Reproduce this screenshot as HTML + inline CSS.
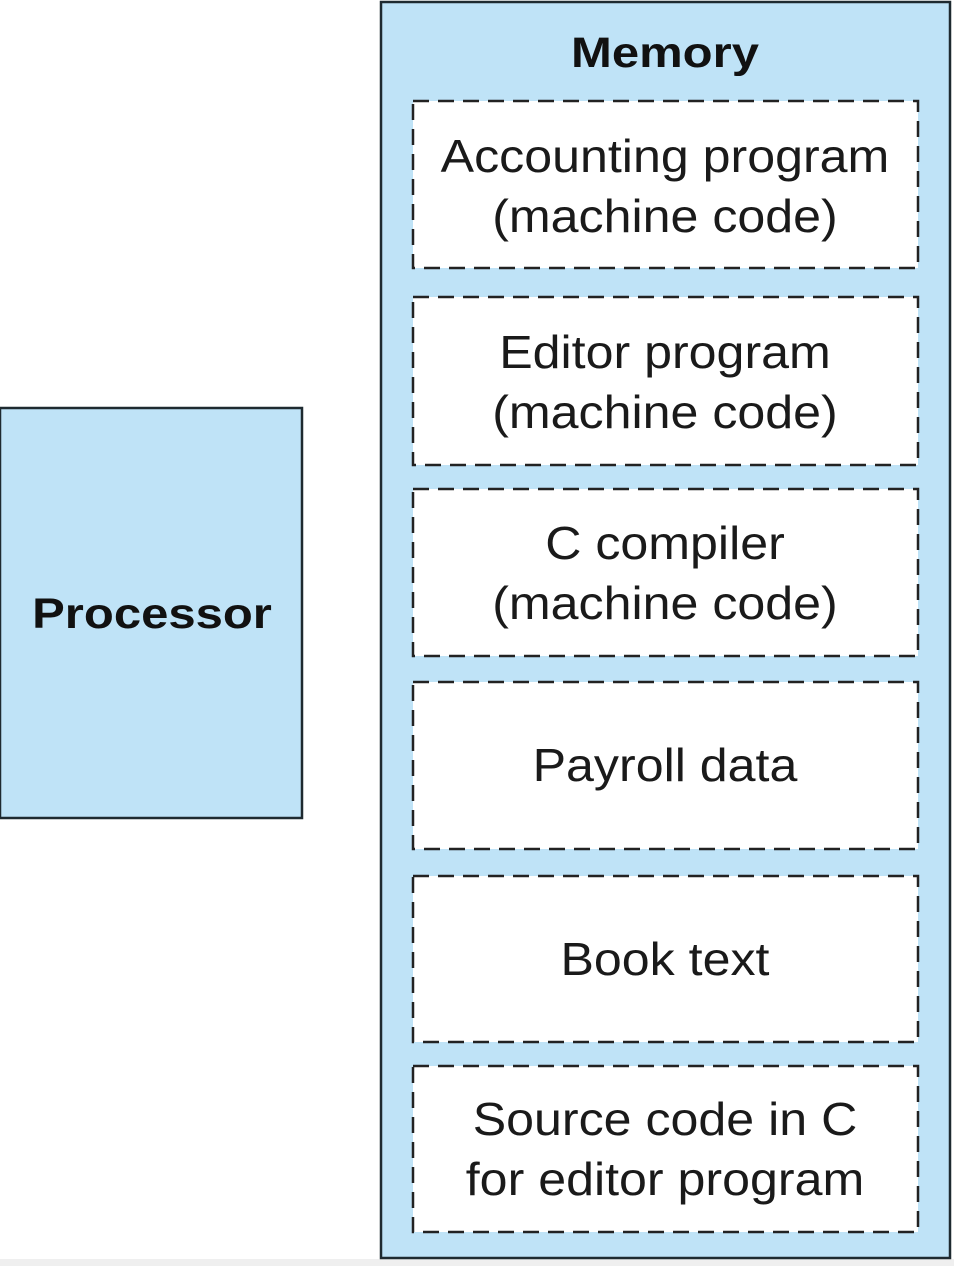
<!DOCTYPE html>
<html><head><style>body{margin:0;background:#fff}svg{display:block}</style></head>
<body>
<svg width="954" height="1266" viewBox="0 0 954 1266" xmlns="http://www.w3.org/2000/svg" font-family="Liberation Sans, Arial, sans-serif">
<rect x="0" y="1259" width="954" height="7" fill="#efefef"/>
<rect x="0" y="408" width="302" height="410" fill="#bfe3f7" stroke="#1e2a30" stroke-width="2.5"/>
<text x="152" y="628" font-size="43" font-weight="bold" text-anchor="middle" fill="#111" transform="translate(152,0) scale(1.14,1) translate(-152,0)">Processor</text>
<rect x="381" y="2" width="569" height="1256" fill="#bfe3f7" stroke="#1e2a30" stroke-width="2.5"/>
<text x="665" y="67" font-size="43" font-weight="bold" text-anchor="middle" fill="#111" transform="translate(665,0) scale(1.14,1) translate(-665,0)">Memory</text>
<g fill="#fff" stroke="#222" stroke-width="2.5" stroke-dasharray="16,9">
<rect x="413" y="101" width="505" height="167"/>
<rect x="413" y="297" width="505" height="168"/>
<rect x="413" y="489" width="505" height="167"/>
<rect x="413" y="682" width="505" height="167"/>
<rect x="413" y="876" width="505" height="166"/>
<rect x="413" y="1066" width="505" height="166"/>
</g>
<g font-size="46" text-anchor="middle" fill="#1a1a1a" transform="translate(665,0) scale(1.09,1) translate(-665,0)">
<text x="665" y="172">Accounting program</text>
<text x="665" y="232">(machine code)</text>
<text x="665" y="368">Editor program</text>
<text x="665" y="428">(machine code)</text>
<text x="665" y="559">C compiler</text>
<text x="665" y="619">(machine code)</text>
<text x="665" y="781">Payroll data</text>
<text x="665" y="975">Book text</text>
<text x="665" y="1135">Source code in C</text>
<text x="665" y="1195">for editor program</text>
</g>
</svg>
</body></html>
